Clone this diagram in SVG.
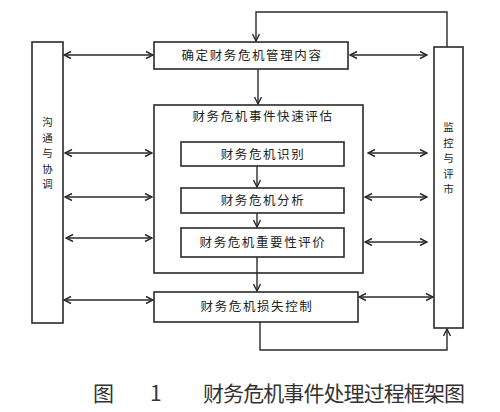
<svg xmlns="http://www.w3.org/2000/svg" width="500" height="412" viewBox="0 0 500 412">
<defs>
<style>
.box{fill:#fff;stroke:#2a2a2a;stroke-width:1.6}
.lbl{font-family:"Noto Sans CJK SC","Liberation Sans",sans-serif;font-size:12.5px;fill:#222;text-anchor:middle;letter-spacing:1.6px}
.vl{font-family:"Noto Sans CJK SC","Liberation Sans",sans-serif;font-size:10.5px;fill:#222;text-anchor:middle}
.ln{fill:none;stroke:#2a2a2a;stroke-width:1.4}
.cap{font-family:"Noto Sans CJK SC","Liberation Sans",sans-serif;font-size:21px;fill:#333}
</style>
<marker id="ah" markerUnits="userSpaceOnUse" markerWidth="10" markerHeight="10" viewBox="0 0 10 10" refX="9" refY="5" orient="auto-start-reverse">
<polyline points="2,1.5 9,5 2,8.5" fill="none" stroke="#2a2a2a" stroke-width="1.4"/>
</marker>
</defs>
<rect width="500" height="412" fill="#fff"/>

<g id="n-left">
<rect class="box" x="32" y="42" width="31" height="281"/>
<text class="vl" x="47.5" y="126">沟</text>
<text class="vl" x="47.5" y="141.5">通</text>
<text class="vl" x="47.5" y="157">与</text>
<text class="vl" x="47.5" y="172.5">协</text>
<text class="vl" x="47.5" y="188">调</text>
</g>

<g id="n-right">
<rect class="box" x="434" y="47" width="29" height="281"/>
<text class="vl" x="448.5" y="131">监</text>
<text class="vl" x="448.5" y="146.5">控</text>
<text class="vl" x="448.5" y="162">与</text>
<text class="vl" x="448.5" y="177.5">评</text>
<text class="vl" x="448.5" y="193">市</text>
</g>

<g id="n-top">
<rect class="box" x="154" y="42" width="194" height="27"/>
<text class="lbl" x="252" y="60">确定财务危机管理内容</text>
</g>

<g id="n-assess">
<rect class="box" x="154" y="105" width="209" height="168"/>
<text class="lbl" x="263" y="121">财务危机事件快速评估</text>
</g>

<g id="n-identify">
<rect class="box" x="181" y="142" width="163" height="24"/>
<text class="lbl" x="263" y="159">财务危机识别</text>
</g>

<g id="n-analyze">
<rect class="box" x="181" y="188" width="163" height="25"/>
<text class="lbl" x="263" y="205">财务危机分析</text>
</g>

<g id="n-evaluate">
<rect class="box" x="181" y="228" width="163" height="29"/>
<text class="lbl" x="263" y="247">财务危机重要性评价</text>
</g>

<g id="n-control">
<rect class="box" x="154" y="292" width="204" height="30"/>
<text class="lbl" x="257" y="311">财务危机损失控制</text>
</g>

<g id="connectors">
<polyline class="ln" points="447,47 447,12 256,12 256,41" marker-end="url(#ah)"/>
<polyline class="ln" points="260,322 260,350 447,350 447,329" marker-end="url(#ah)"/>
<line class="ln" x1="258" y1="69" x2="258" y2="104" marker-end="url(#ah)"/>
<line class="ln" x1="257" y1="166" x2="257" y2="187" marker-end="url(#ah)"/>
<line class="ln" x1="257" y1="213" x2="257" y2="227" marker-end="url(#ah)"/>
<line class="ln" x1="257" y1="257" x2="257" y2="291" marker-end="url(#ah)"/>
<line class="ln" x1="64" y1="55" x2="153" y2="55" marker-start="url(#ah)" marker-end="url(#ah)"/>
<line class="ln" x1="65" y1="153" x2="152" y2="153" marker-start="url(#ah)" marker-end="url(#ah)"/>
<line class="ln" x1="65" y1="197" x2="152" y2="197" marker-start="url(#ah)" marker-end="url(#ah)"/>
<line class="ln" x1="66" y1="238" x2="152" y2="238" marker-start="url(#ah)" marker-end="url(#ah)"/>
<line class="ln" x1="64" y1="300" x2="153" y2="300" marker-start="url(#ah)" marker-end="url(#ah)"/>
<line class="ln" x1="350" y1="55" x2="427" y2="55" marker-start="url(#ah)" marker-end="url(#ah)"/>
<line class="ln" x1="368" y1="153" x2="427" y2="153" marker-start="url(#ah)" marker-end="url(#ah)"/>
<line class="ln" x1="365" y1="197" x2="427" y2="197" marker-start="url(#ah)" marker-end="url(#ah)"/>
<line class="ln" x1="365" y1="242" x2="427" y2="242" marker-start="url(#ah)" marker-end="url(#ah)"/>
<line class="ln" x1="359" y1="297" x2="433" y2="297" marker-start="url(#ah)" marker-end="url(#ah)"/>
</g>

<text class="cap" y="401"><tspan x="93">图</tspan><tspan x="150">1</tspan><tspan x="203" textLength="262" lengthAdjust="spacing">财务危机事件处理过程框架图</tspan></text>
</svg>
